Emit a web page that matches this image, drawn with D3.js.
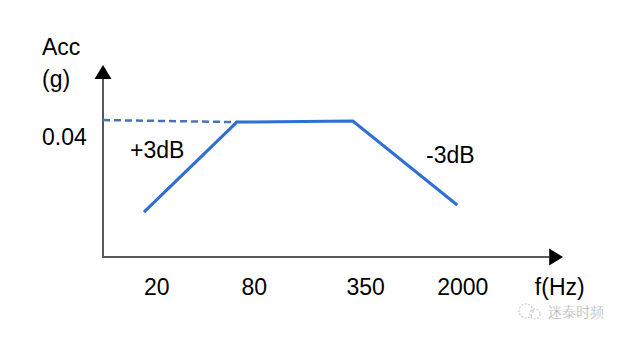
<!DOCTYPE html>
<html>
<head>
<meta charset="utf-8">
<script src="https://cdn.jsdelivr.net/npm/d3@7"></script>
<style>
  html, body { margin: 0; padding: 0; background: #fff; }
  svg { display: block; }
  text { font-family: "Liberation Sans", Arial, sans-serif; fill: #000; }
</style>
</head>
<body>
<svg id="chart" width="629" height="337"></svg>
<script>
// ---- data ----
const freqLabels = ["20", "80", "350", "2000"];
const labelPos = [11.7, 32.9, 57.1, 78.2];      // position of tick labels along the (non-numeric) frequency axis
const profileX = [8.9, 29.1, 54.3, 77.0];        // breakpoints of the profile along the axis
const profileAcc = [0.0132, 0.0397, 0.0400, 0.0153]; // acceleration (g)
const refLineX = [0, 29.1];
const refLineAcc = [0.0403, 0.0397];
const slopeLabels = ["+3dB", "-3dB"];
const yTickLabel = "0.04";
const xTitle = "f(Hz)";
const yTitle = ["Acc", "(g)"];
const watermark = "迷泰时频";

// ---- scales ----
const svg = d3.select("#chart");
const x = d3.scaleLinear().domain([0, 100]).range([103, 563]);
const y = d3.scaleLinear().domain([0, 0.0565]).range([257, 65]);
const FS = 23;

// axes
const axisColor = "#595959";
svg.append("line").attr("x1", x(0)).attr("x2", x(0) ).attr("y1", y(0) + 1).attr("y2", y(0.0525))
  .attr("stroke", axisColor).attr("stroke-width", 2);
svg.append("line").attr("x1", x(0) - 1).attr("x2", x(97)).attr("y1", y(0)).attr("y2", y(0))
  .attr("stroke", axisColor).attr("stroke-width", 2);
// arrow heads
svg.append("path")
  .attr("d", `M${x(0)},${y(0.0565)} L${x(0) - 8.5},${y(0.0524)} L${x(0) + 8.5},${y(0.0524)} Z`)
  .attr("fill", "#000");
svg.append("path")
  .attr("d", `M${x(100)},${y(0)} L${x(97)},${y(0) - 8.5} L${x(97)},${y(0) + 8.5} Z`)
  .attr("fill", "#000");

// dashed reference line
svg.append("path")
  .datum(refLineX.map((v, i) => [v, refLineAcc[i]]))
  .attr("d", d3.line().x(d => x(d[0])).y(d => y(d[1])))
  .attr("fill", "none").attr("stroke", "#4a72b5").attr("stroke-width", 2.5)
  .attr("stroke-dasharray", "7,4");

// profile line
svg.append("path")
  .datum(profileX.map((v, i) => [v, profileAcc[i]]))
  .attr("d", d3.line().x(d => x(d[0])).y(d => y(d[1])))
  .attr("fill", "none").attr("stroke", "#2e6fd4").attr("stroke-width", 3)
  .attr("stroke-linejoin", "miter");

// tick labels
svg.selectAll("text.xl").data(freqLabels).join("text")
  .attr("class", "xl")
  .attr("x", (d, i) => x(labelPos[i])).attr("y", 295)
  .attr("text-anchor", "middle").attr("font-size", FS).text(d => d);
svg.append("text").attr("x", x(99.3)).attr("y", 295).attr("text-anchor", "middle")
  .attr("font-size", FS).text(xTitle);

svg.append("text").attr("x", 42).attr("y", 145).attr("font-size", FS).text(yTickLabel);
svg.append("text").attr("x", 42).attr("y", 55).attr("font-size", FS).text(yTitle[0]);
svg.append("text").attr("x", 42).attr("y", 87).attr("font-size", FS).text(yTitle[1]);

// slope labels
svg.append("text").attr("x", 130).attr("y", 158).attr("font-size", FS).text(slopeLabels[0]);
svg.append("text").attr("x", 426).attr("y", 163).attr("font-size", FS).text(slopeLabels[1]);

// watermark
const wm = svg.append("g").attr("opacity", 0.75);
wm.append("circle").attr("cx", 526).attr("cy", 311).attr("r", 7)
  .attr("fill", "none").attr("stroke", "#bbb").attr("stroke-width", 1.2).attr("stroke-dasharray", "2,1.5");
wm.append("circle").attr("cx", 535).attr("cy", 314).attr("r", 5)
  .attr("fill", "none").attr("stroke", "#bbb").attr("stroke-width", 1.2).attr("stroke-dasharray", "2,1.5");
wm.append("text").attr("x", 548).attr("y", 317).attr("font-size", 14)
  .style("font-family", "'Noto Sans CJK SC', sans-serif")
  .style("fill", "#888").attr("stroke", "#fff").attr("stroke-width", 0.3)
  .text(watermark);
</script>
</body>
</html>
